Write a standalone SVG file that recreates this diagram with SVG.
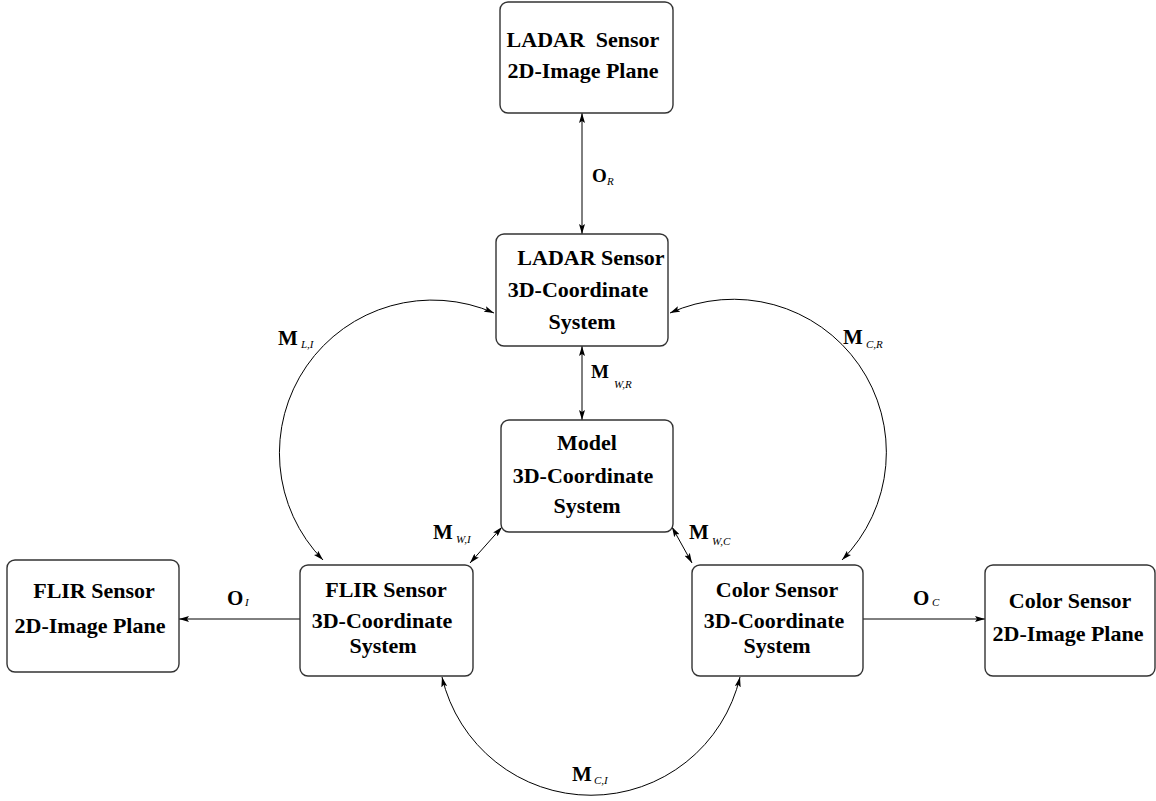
<svg xmlns="http://www.w3.org/2000/svg" width="1156" height="801" viewBox="0 0 1156 801">
<style>
.box{fill:#fff;stroke:#333;stroke-width:1.4}
.t{font-family:"Liberation Serif","Times New Roman",serif;font-weight:bold;font-size:22px;fill:#000;text-anchor:middle}
.c{fill:none;stroke:#000;stroke-width:1}
.m{font-family:"Liberation Serif","Times New Roman",serif;font-weight:bold;font-size:21px;fill:#000}
.ms{font-family:"Liberation Serif","Times New Roman",serif;font-weight:bold;font-size:19px;fill:#000}
.s{font-family:"Liberation Serif","Times New Roman",serif;font-style:italic;font-weight:normal;font-size:11px;fill:#000}
</style>
<defs>
<marker id="ah" viewBox="0 0 10 6" markerUnits="userSpaceOnUse" markerWidth="10" markerHeight="6" refX="10" refY="3" orient="auto-start-reverse">
<path d="M0,0 L10,3 L0,6 L2,3 z" fill="#000"/>
</marker>
</defs>
<rect width="1156" height="801" fill="#fff"/>
<g id="connectors">
<line class="c" x1="582" y1="113" x2="582" y2="234" marker-start="url(#ah)" marker-end="url(#ah)"/>
<line class="c" x1="582" y1="346" x2="582" y2="420" marker-start="url(#ah)" marker-end="url(#ah)"/>
<line class="c" x1="502" y1="527" x2="470" y2="563" marker-start="url(#ah)" marker-end="url(#ah)"/>
<line class="c" x1="672" y1="527" x2="692" y2="563" marker-start="url(#ah)" marker-end="url(#ah)"/>
<line class="c" x1="300" y1="619" x2="179" y2="619" marker-end="url(#ah)"/>
<line class="c" x1="863" y1="619" x2="985" y2="619" marker-end="url(#ah)"/>
<path class="c" d="M494,313 A153,153 0 0 0 323,560" marker-start="url(#ah)" marker-end="url(#ah)"/>
<path class="c" d="M670,313 A153,153 0 0 1 842,560" marker-start="url(#ah)" marker-end="url(#ah)"/>
<path class="c" d="M442,677 A153,153 0 0 0 740,677" marker-start="url(#ah)" marker-end="url(#ah)"/>
<text><tspan class="ms" x="592" y="182">O</tspan><tspan class="s" x="607" y="185">R</tspan></text>
<text><tspan class="ms" x="591" y="378">M</tspan><tspan class="s" x="614" y="388">W,R</tspan></text>
<text><tspan class="m" x="278" y="345">M</tspan><tspan class="s" x="301" y="348">L,I</tspan></text>
<text><tspan class="m" x="843" y="344">M</tspan><tspan class="s" x="866" y="348">C,R</tspan></text>
<text><tspan class="m" x="433" y="539">M</tspan><tspan class="s" x="456" y="543">W,I</tspan></text>
<text><tspan class="m" x="689" y="539">M</tspan><tspan class="s" x="712" y="545">W,C</tspan></text>
<text><tspan class="m" x="572" y="781">M</tspan><tspan class="s" x="594" y="784">C,I</tspan></text>
<text><tspan class="m" x="227" y="605">O</tspan><tspan class="s" x="245" y="606">I</tspan></text>
<text><tspan class="m" x="913" y="605">O</tspan><tspan class="s" x="932" y="606">C</tspan></text>
</g>
<g id="ladar2d">
<rect class="box" x="500" y="2" width="173" height="111" rx="8"/>
<text class="t" x="583" y="47" style="white-space:pre" xml:space="preserve">LADAR  Sensor</text>
<text class="t" x="583" y="78">2D-Image Plane</text>
</g>
<g id="ladar3d">
<rect class="box" x="496" y="234" width="172" height="112" rx="8"/>
<text class="t" x="591" y="265">LADAR Sensor</text>
<text class="t" x="578" y="297">3D-Coordinate</text>
<text class="t" x="582" y="329">System</text>
</g>
<g id="model">
<rect class="box" x="501" y="420" width="172" height="112" rx="8"/>
<text class="t" x="587" y="450">Model</text>
<text class="t" x="583" y="483">3D-Coordinate</text>
<text class="t" x="587" y="513">System</text>
</g>
<g id="flir2d">
<rect class="box" x="7" y="560" width="172" height="112" rx="8"/>
<text class="t" x="94" y="598">FLIR Sensor</text>
<text class="t" x="90" y="633">2D-Image Plane</text>
</g>
<g id="flir3d">
<rect class="box" x="300" y="565" width="173" height="111" rx="8"/>
<text class="t" x="386" y="597">FLIR Sensor</text>
<text class="t" x="382" y="628">3D-Coordinate</text>
<text class="t" x="383" y="653">System</text>
</g>
<g id="color3d">
<rect class="box" x="692" y="565" width="171" height="111" rx="8"/>
<text class="t" x="777" y="597">Color Sensor</text>
<text class="t" x="774" y="628">3D-Coordinate</text>
<text class="t" x="777" y="653">System</text>
</g>
<g id="color2d">
<rect class="box" x="985" y="565" width="170" height="111" rx="8"/>
<text class="t" x="1070" y="608">Color Sensor</text>
<text class="t" x="1068" y="641">2D-Image Plane</text>
</g>
</svg>
